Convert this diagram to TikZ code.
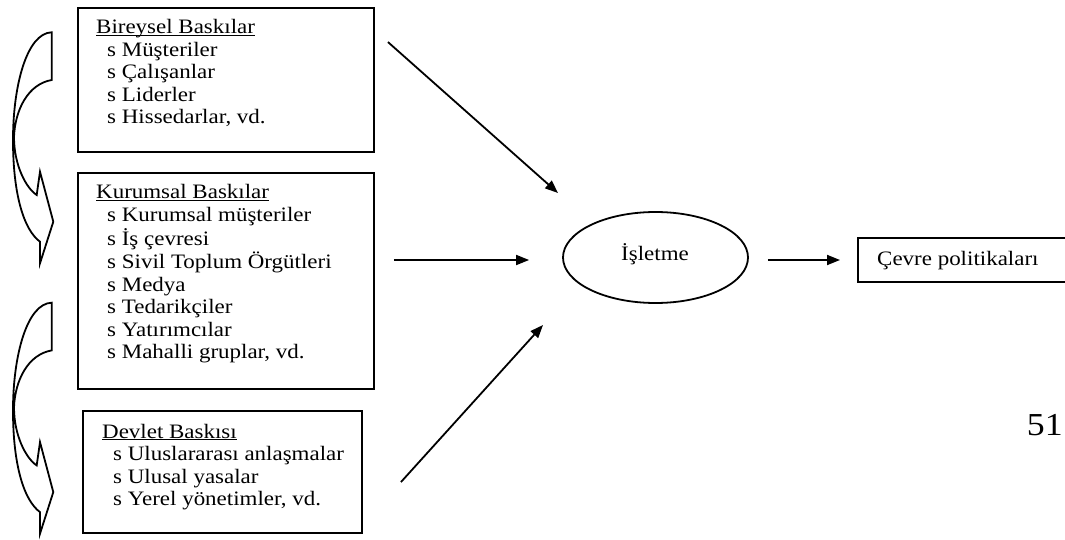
\documentclass[tikz,border=0pt]{standalone}
\usepackage{fontspec}
\setmainfont{Liberation Serif}[FakeStretch=1.12]
\usetikzlibrary{shapes.geometric,arrows.meta,calc}
\newcommand\myul[1]{\setbox0\hbox{#1}\rlap{\rule[-2pt]{\wd0}{1pt}}#1}
\newcommand\itm{\hspace*{11pt}s }
\begin{document}
\begin{tikzpicture}[x=1pt,y=-1pt,
  box/.style={draw, line width=1.9pt, inner sep=0pt},
  txt/.style={inner sep=0pt, anchor=base west, font=\fontsize{20.5}{22.5}\selectfont},
  arr/.style={line width=1.8pt, -{Triangle[length=13pt,width=10pt]}},
  carrow/.style={line width=1.8pt, line join=miter}]
\useasboundingbox (0,0) rectangle (1065,540);

% boxes
\node[box, minimum width=296pt, minimum height=144pt] (b1) at (226,80) {};
\node[box, minimum width=296pt, minimum height=216pt] (b2) at (226,281) {};
\node[box, minimum width=279pt, minimum height=122pt] (b3) at (222.5,472) {};

\node[txt] (t1) at (96,34) {\begin{tabular}[t]{@{}l@{}}\myul{Bireysel Baskılar}\\
\itm Müşteriler\\ \itm Çalışanlar\\ \itm Liderler\\ \itm Hissedarlar, vd.\end{tabular}};
\node[txt] (t2) at (96,199) {\begin{tabular}[t]{@{}l@{}}\myul{Kurumsal Baskılar}\\
\itm Kurumsal müşteriler\\ \itm İş çevresi\\ \itm Sivil Toplum Örgütleri\\ \itm Medya\\
\itm Tedarikçiler\\ \itm Yatırımcılar\\ \itm Mahalli gruplar, vd.\end{tabular}};
\node[txt] (t3) at (102,438) {\begin{tabular}[t]{@{}l@{}}\myul{Devlet Baskısı}\\
\itm Uluslararası anlaşmalar\\ \itm Ulusal yasalar\\ \itm Yerel yönetimler, vd.\end{tabular}};

% ellipse
\node[draw, ellipse, line width=1.8pt, minimum width=185pt, minimum height=91pt, inner sep=0pt] (ell) at (655.5,257.5) {};
\node[txt, anchor=base] (ellt) at (655,260) {İşletme};

% output box (open on the right, runs off the page)
\coordinate (cv) at (858,260);
\draw[line width=1.9pt] (1075,238) -- (858,238) -- (858,282) -- (1075,282);
\node[txt] (cvt) at (877,265) {Çevre politikaları};

% page number
\node[inner sep=0pt, anchor=base east, font=\fontsize{32}{36}\selectfont] (pg) at (1063,435) {51};

% arrows
\draw[arr] ($(b1.north east)+(13,35)$) -- ($(ell.center)+(-97.5,-64.5)$);
\draw[arr] ($(b2.east)+(19,-21)$) -- ($(ell.west)+(-33,2.5)$);
\draw[arr] ($(b3.north east)+(38,72)$) -- ($(ell.center)+(-112.5,67.5)$);
\draw[arr] ($(ell.east)+(19,2.5)$) -- ($(cv)+(-18,0)$);

% curved arrows on the left
\foreach \dy in {0,270.4}{
\begin{scope}[shift={(0,\dy)}]
\draw[carrow] (51.7,32.3) -- (51.7,80)
  .. controls (28,84) and (15,110) .. (14,137)
  .. controls (14,165) and (26,188) .. (36.7,195)
  -- (40,171.7) -- (53.3,221.7) -- (40,263.3) -- (40,241.7)
  .. controls (24,230) and (13,195) .. (13,140)
  .. controls (13,85) and (27,33) .. (51.7,32.3) -- cycle;
\end{scope}}
\end{tikzpicture}
\end{document}
